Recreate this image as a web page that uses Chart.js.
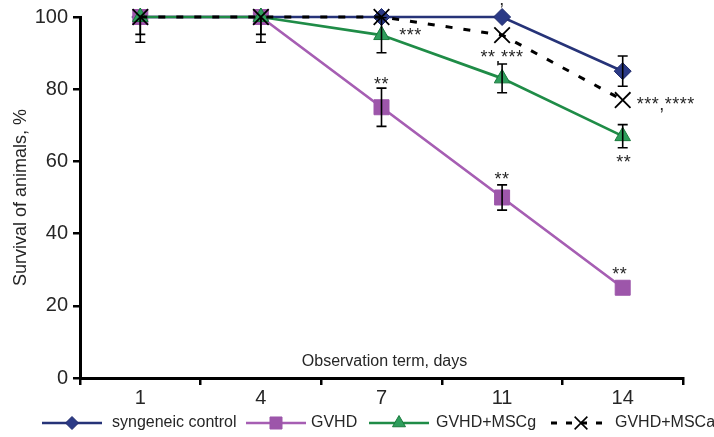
<!DOCTYPE html>
<html>
<head>
<meta charset="utf-8">
<script src="https://cdn.jsdelivr.net/npm/chart.js@4"></script>
<style>
  html, body { margin: 0; padding: 0; background: #fff; }
  #wrap { width: 714px; height: 437px; }
</style>
</head>
<body>
<div id="wrap"><canvas id="cv" width="714" height="437"></canvas></div>
<script>
// ------------------------------------------------------------
//  Survival of animals by observation day
// ------------------------------------------------------------
const DAYS    = ['1', '4', '7', '11', '14'];
const Y_TICKS = [0, 20, 40, 60, 80, 100];

const SYN  = [100, 100, 100, 100, 85];
const GVHD = [100, 100, 75, 50, 25];
const MSCG = [100, 100, 95, 83, 67];
const MSCA = [100, 100, 100, 95, 77];

// +/- error per day (null = no bar)
const ERR_SYN  = [null, null, null, null, 4.2];
const ERR_GVHD = [7, 7, 5.3, 3.5, null];
const ERR_MSCG = [4.8, 4.8, 4.9, 4, 3.2];
const ERR_MSCA = [null, null, null, null, null];

// significance marks: text, day index, anchor value (baseline)
const NOTE_TEXT  = ['***', ',', '**,***', '***,****', '**', '**', '**', '**'];
const NOTE_DAY   = [2, 3, 3, 4, 2, 3, 4, 4];
const NOTE_VALUE = [93.4, 103.4, 87.3, 74.3, 79.8, 53.4, 27.1, 58.3];

const FONT = "'Liberation Sans', Arial, sans-serif";
const TXT  = '#262626';

const SERIES = [
  { name: 'syngeneic control', data: SYN,  err: ERR_SYN,  line: '#263378', fill: '#2b3a86', edge: '#1f2a6b', style: 'rectRot',  r: 8.5,  lr: 6.5, dash: [],     lw: 2.7, order: 3 },
  { name: 'GVHD',              data: GVHD, err: ERR_GVHD, line: '#a65eb3', fill: '#9d56aa', edge: '#9d56aa', style: 'rect',     r: 10.6, lr: 8.5, dash: [],     lw: 2.7, order: 2 },
  { name: 'GVHD+MSCg',         data: MSCG, err: ERR_MSCG, line: '#1f8c47', fill: '#2e9e5c', edge: '#1a7a3d', style: 'triangle', r: 9,    lr: 7.5, dash: [],     lw: 2.7, order: 1 },
  { name: 'GVHD+MSCa',         data: MSCA, err: ERR_MSCA, line: '#000',    fill: '#000',    edge: '#000',    style: 'crossRot', r: 11,   lr: 9,   dash: [7, 11], lw: 3,   order: 0 }
];

const errorBars = {
  id: 'errorBars',
  afterDatasetsDraw(chart) {
    const { ctx, chartArea: a, scales: { x, y } } = chart;
    ctx.save();
    ctx.beginPath();
    ctx.rect(0, a.top, chart.width, chart.height - a.top);
    ctx.clip();
    ctx.strokeStyle = '#000';
    ctx.lineWidth = 1.6;
    SERIES.forEach(s => {
      s.err.forEach((e, i) => {
        if (e == null) return;
        const cx = x.getPixelForValue(i);
        const yt = y.getPixelForValue(s.data[i] + e);
        const yb = y.getPixelForValue(s.data[i] - e);
        ctx.beginPath();
        ctx.moveTo(cx, yt); ctx.lineTo(cx, yb);
        ctx.moveTo(cx - 5, yt); ctx.lineTo(cx + 5, yt);
        ctx.moveTo(cx - 5, yb); ctx.lineTo(cx + 5, yb);
        ctx.stroke();
      });
    });
    ctx.restore();
  }
};

const extras = {
  id: 'extras',
  afterDraw(chart) {
    const { ctx, chartArea: a, scales: { x, y } } = chart;
    ctx.save();

    // significance marks
    ctx.fillStyle = TXT;
    ctx.font = `18px ${FONT}`;
    ctx.letterSpacing = '0.5px';
    ctx.textAlign = 'center';
    ctx.textBaseline = 'alphabetic';
    const dx = [29, 0, 0, 43, 0, 0, -3, 1];
    NOTE_TEXT.forEach((t, i) => {
      ctx.fillText(t, x.getPixelForValue(NOTE_DAY[i]) + dx[i], y.getPixelForValue(NOTE_VALUE[i]));
    });
    ctx.letterSpacing = '0px';

    // axis titles
    ctx.font = `16px ${FONT}`;
    ctx.textBaseline = 'middle';
    ctx.fillText('Observation term, days', (a.left + a.right) / 2 + 3, 362);
    ctx.save();
    ctx.translate(21, (a.top + a.bottom) / 2);
    ctx.rotate(-Math.PI / 2);
    ctx.font = `18px ${FONT}`;
    ctx.fillText('Survival of animals, %', 0, 0);
    ctx.restore();

    // legend
    const ly = 423;
    const lx = [42, 246, 369, 551];
    const tx = [112, 311, 436, 615];
    SERIES.forEach((s, i) => {
      const x0 = lx[i], x1 = x0 + 60;
      ctx.strokeStyle = s.line;
      ctx.lineWidth = s.lw;
      ctx.setLineDash(s.dash.length ? [6, 9] : []);
      ctx.beginPath();
      ctx.moveTo(x0, ly); ctx.lineTo(x1, ly);
      ctx.stroke();
      ctx.setLineDash([]);
      ctx.fillStyle = s.fill;
      ctx.strokeStyle = s.edge;
      ctx.lineWidth = s.style === 'crossRot' ? 1.6 : 1;
      Chart.helpers.drawPoint(ctx, { pointStyle: s.style, radius: s.lr, borderWidth: ctx.lineWidth, rotation: 0 }, (x0 + x1) / 2, ly);
      ctx.fillStyle = TXT;
      ctx.font = `16px ${FONT}`;
      ctx.textAlign = 'left';
      ctx.textBaseline = 'middle';
      ctx.fillText(s.name, tx[i], ly);
    });
    ctx.restore();
  }
};

new Chart(document.getElementById('cv'), {
  type: 'line',
  data: {
    labels: DAYS,
    datasets: SERIES.map(s => ({
      label: s.name,
      data: s.data,
      order: s.order,
      borderColor: s.line,
      borderWidth: s.lw,
      borderDash: s.dash,
      pointStyle: s.style,
      pointRadius: s.r,
      pointHoverRadius: s.r,
      pointBackgroundColor: s.fill,
      pointBorderColor: s.edge,
      pointBorderWidth: s.style === 'crossRot' ? 1.8 : 1,
      tension: 0,
      fill: false,
      clip: false
    }))
  },
  options: {
    responsive: false,
    animation: false,
    devicePixelRatio: 1,
    layout: { padding: { top: 15.5, right: 31, left: 0, bottom: 0 } },
    plugins: { legend: { display: false }, tooltip: { enabled: false } },
    scales: {
      x: {
        type: 'category',
        offset: true,
        grid: { drawOnChartArea: false, drawTicks: true, tickLength: 7, color: '#000', lineWidth: 2.5, offset: true },
        border: { display: true, color: '#000', width: 3 },
        ticks: { color: TXT, font: { family: FONT, size: 20 }, padding: 1 },
        afterFit(s) { s.height = 59; }
      },
      y: {
        min: 0,
        max: 100,
        afterBuildTicks(s) { s.ticks = Y_TICKS.map(v => ({ value: v })); },
        grid: { drawOnChartArea: false, drawTicks: true, tickLength: 7, color: '#000', lineWidth: 2.5 },
        border: { display: true, color: '#000', width: 3 },
        ticks: { color: TXT, font: { family: FONT, size: 20 }, padding: 5 },
        afterFit(s) { s.width = 80; }
      }
    }
  },
  plugins: [errorBars, extras]
});
</script>
</body>
</html>
